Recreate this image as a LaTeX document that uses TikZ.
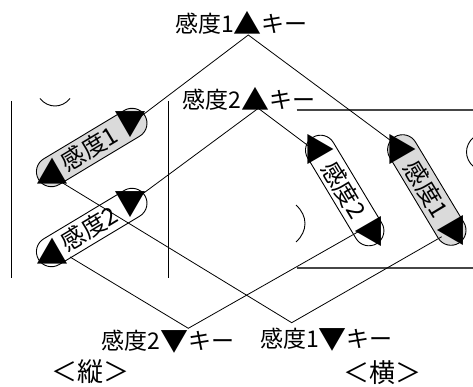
\documentclass[tikz,border=0pt]{standalone}
\usepackage{fontspec}
\setmainfont{Noto Sans CJK JP}
\definecolor{pillfill}{RGB}{218,218,218}
\definecolor{framegray}{RGB}{70,70,70}
\newcommand{\bigtri}[1]{{\fontsize{28}{28}\selectfont\raisebox{-1.8pt}{#1}}}
\begin{document}
\begin{tikzpicture}[x=1pt,y=-1pt,
  pillshape/.style={draw=black, line width=0.9pt, rounded corners=15pt,
    minimum width=124pt, minimum height=30pt, inner sep=0pt},
  pillgray/.style={pillshape, fill=pillfill},
  pillwhite/.style={pillshape, fill=white},
  ptext/.style={font=\fontsize{24}{24}\selectfont, inner sep=0pt},
  tri/.style={font=\fontsize{32}{32}\selectfont, inner sep=0pt},
  lbl/.style={font=\fontsize{23}{23}\selectfont, inner sep=0pt},
  big/.style={font=\fontsize{26}{26}\selectfont, inner sep=0pt},
  wire/.style={draw=black, line width=0.8pt},
  frame/.style={draw=black, line width=0.9pt},
  framer/.style={draw=framegray, line width=1.8pt}]
\useasboundingbox (0,0) rectangle (473,387);

% left device (portrait)
\draw[frame] (11.7,101) -- (11.7,278);
\draw[frame] (168.3,101) -- (168.3,278);
\draw[frame] (40,98.5) .. controls (48,108.5) and (62,108.5) .. (70,98.5);

% right device (landscape)
\draw[framer] (296.5,110) -- (473,110);
\draw[framer] (296.5,268.3) -- (473,268.3);
\draw[frame] (296,205) .. controls (308,216) and (308,231) .. (296,242);
\draw[frame] (474,137) .. controls (464,145) and (464,159) .. (474,167);

% pills
\node[pillgray, rotate=31] (p1) at (91.7,147.5) {};
\node[pillwhite, rotate=31] (p2) at (91.7,227.5) {};
\node[pillwhite, rotate=-59] (p3) at (344.7,190.5) {};
\node[pillgray, rotate=-59] (p4) at (426.8,190) {};

\node[ptext, rotate=31] (t1) at (89,148.5) {感度1};
\node[ptext, rotate=31] (t2) at (89,228.5) {感度2};
\node[ptext, rotate=-59] (t3) at (344.2,189.7) {感度2};
\node[ptext, rotate=-59] (t4) at (426.3,189.2) {感度1};

% wires
\coordinate (a1) at (248.3,35);
\coordinate (a2) at (258.3,108.3);
\coordinate (a3) at (188.3,328.3);
\coordinate (a4) at (291.7,322.7);
\coordinate (p1dn) at (140,117);
\coordinate (p1up) at (48,174);
\coordinate (p2dn) at (137,198);
\coordinate (p2up) at (70,257);
\coordinate (p3up) at (318.3,153.3);
\coordinate (p3dn) at (358.3,231.7);
\coordinate (p4up) at (398,146);
\coordinate (p4dn) at (441.7,236.7);

\draw[wire] (p1dn) -- (a1) -- (p4up);
\draw[wire] (p2dn) -- (a2) -- (p3up);
\draw[wire] (p2up) -- (a3) -- (p3dn);
\draw[wire] (p1up) -- (a4) -- (p4dn);

% triangle keys
\node[tri] (k1u) at (52.5,170.8) {▲};
\node[tri] (k1d) at (130.8,124.2) {▼};
\node[tri] (k2u) at (52.5,250.8) {▲};
\node[tri] (k2d) at (130.8,204.2) {▼};
\node[tri, rotate=-90] (k3u) at (320.8,150) {▲};
\node[tri, rotate=-90] (k3d) at (368.6,231) {▼};
\node[tri, rotate=-90] (k4u) at (402.9,149.5) {▲};
\node[tri, rotate=-90] (k4d) at (450.7,230.5) {▼};

% labels
\node[lbl] (l1) at (241.5,22.5) {感度1\bigtri{▲}キー};
\node[lbl] (l2) at (249,98.5) {感度2\bigtri{▲}キー};
\node[lbl] (l3) at (168,342) {感度2\bigtri{▼}キー};
\node[lbl] (l4) at (326.5,340) {感度1\bigtri{▼}キー};
\node[big] (l5) at (90,371.5) {＜縦＞};
\node[big] (l6) at (382.5,372.5) {＜横＞};
\end{tikzpicture}
\end{document}
